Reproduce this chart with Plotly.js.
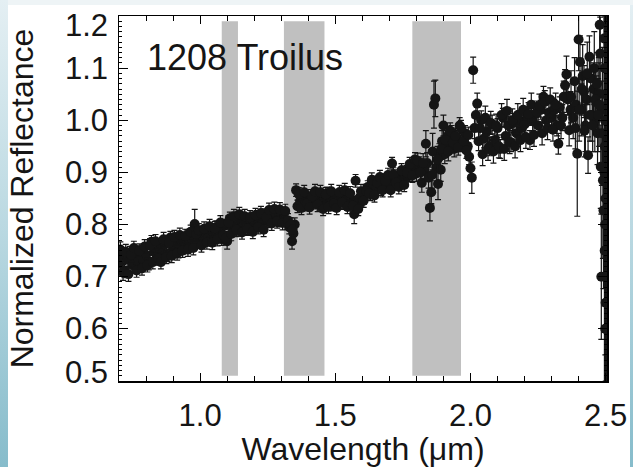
<!DOCTYPE html>
<html>
<head>
<meta charset="utf-8">
<script src="https://cdn.plot.ly/plotly-3.0.1.min.js"></script>
<style>
  html, body { margin: 0; padding: 0; width: 633px; height: 467px; overflow: hidden; }
  body { background: linear-gradient(to bottom, #e4eff3 0%, #b9d8e1 50%, #86bccb 100%); position: relative; }
  #panel { position: absolute; left: 8px; top: 5px; width: 622px; height: 462px; background: #ffffff; }
  #topstrip { position: absolute; left: 8px; top: 0; width: 625px; height: 5px; background: #eef4f6; }
  #chart { position: absolute; left: 0; top: 0; width: 633px; height: 467px; }
</style>
</head>
<body>
<div id="topstrip"></div>
<div id="panel"></div>
<div id="chart"></div>
<script>
// ---- Spectrum, sampling A ----
const wavelength = [
0.70,0.71,0.72,0.73,0.74,0.75,0.76,0.77,0.78,0.79,
0.80,0.81,0.82,0.83,0.84,0.85,0.86,0.87,0.88,0.89,
0.90,0.91,0.92,0.93,0.94,0.95,0.96,0.97,0.98,0.99,
1.00,1.01,1.02,1.03,1.04,1.05,1.06,1.07,1.08,1.09,
1.10,1.11,1.12,1.13,1.14,1.15,1.16,1.17,1.18,1.19,
1.20,1.21,1.22,1.23,1.24,1.25,1.26,1.27,1.28,1.29,
1.30,1.31,1.32,1.33,1.34,1.345,1.35,1.355,1.36,1.37,1.38,1.39,
1.40,1.41,1.42,1.43,1.44,1.45,1.46,1.47,1.48,1.49,
1.50,1.51,1.52,1.53,1.54,1.55,1.56,1.57,1.575,1.58,1.59,
1.60,1.61,1.62,1.63,1.64,1.65,1.66,1.67,1.68,1.69,
1.70,1.71,1.72,1.73,1.74,1.75,1.76,1.77,1.78,1.79,
1.80,1.81,1.82,1.83,1.835,1.84,1.845,1.85,1.855,1.86,1.865,1.87,1.875,1.88,1.885,1.89,1.895,
1.90,1.905,1.91,1.915,1.92,1.93,1.94,1.95,1.96,1.97,1.98,1.99,1.995,
2.00,2.005,2.01,2.015,2.02,2.025,2.03,2.04,2.05,2.06,2.07,2.08,2.09,
2.10,2.11,2.12,2.13,2.14,2.15,2.16,2.17,2.18,2.19,
2.20,2.21,2.22,2.23,2.24,2.25,2.26,2.27,2.28,2.29,
2.30,2.31,2.32,2.325,2.33,2.34,2.35,2.355,2.36,2.365,2.37,2.38,2.385,2.39,2.395,
2.40,2.405,2.41,2.415,2.42,2.425,2.43,2.435,2.44,2.445,2.45,2.455,2.46,2.465,2.47,2.475,2.478,
2.48,2.482,2.484,2.486,2.488,2.490,2.492,2.494,2.496,2.497,2.498,2.499,2.500
];
const reflectance = [
0.725,0.740,0.712,0.733,0.745,0.722,0.738,0.728,0.747,0.731,
0.742,0.725,0.767,0.748,0.738,0.756,0.745,0.762,0.741,0.775,
0.752,0.766,0.748,0.770,0.760,0.778,0.764,0.771,0.801,0.768,
0.781,0.770,0.786,0.775,0.790,0.779,0.795,0.783,0.772,0.798,
0.768,0.812,0.795,0.806,0.790,0.809,0.797,0.805,0.793,0.812,
0.800,0.815,0.798,0.808,0.818,0.806,0.822,0.812,0.819,0.808,
0.820,0.812,0.803,0.795,0.768,0.783,0.800,0.866,0.835,0.845,0.852,0.838,
0.848,0.855,0.842,0.850,0.838,0.853,0.844,0.860,0.846,0.838,
0.852,0.845,0.858,0.842,0.850,0.838,0.848,0.820,0.884,0.840,0.852,
0.845,0.862,0.872,0.858,0.875,0.866,0.880,0.868,0.885,0.873,
0.882,0.917,0.878,0.893,0.885,0.900,0.888,0.905,0.895,0.912,
0.898,0.915,0.880,0.905,0.955,0.918,0.890,0.832,0.862,0.940,1.030,1.042,0.910,0.878,0.930,0.905,0.960,
0.990,0.935,0.950,0.970,0.955,0.975,0.945,0.965,0.990,0.955,0.975,0.950,0.930,
0.908,0.890,1.096,0.985,1.010,1.032,0.960,1.000,0.965,0.978,0.950,0.992,0.962,
0.985,0.945,1.005,0.970,0.990,0.958,0.995,0.975,1.000,0.985,
0.992,1.008,0.962,0.998,1.012,0.990,1.020,1.045,1.000,1.015,
1.005,1.020,0.990,0.955,1.025,1.005,1.067,1.088,1.040,0.981,1.020,1.005,1.075,1.030,0.936,
1.155,1.112,1.020,1.085,1.055,0.990,1.040,0.933,1.122,1.080,1.010,1.060,1.000,1.035,0.975,1.050,1.183,
1.128,0.911,0.700,0.975,1.020,0.885,0.827,1.157,1.100,0.950,0.800,1.050,0.650
];
const uncertainty = [
0.015,0.015,0.014,0.014,0.013,0.013,0.013,0.012,0.012,0.012,
0.012,0.012,0.012,0.012,0.012,0.012,0.012,0.012,0.012,0.012,
0.012,0.012,0.012,0.012,0.012,0.012,0.012,0.012,0.028,0.012,
0.012,0.012,0.012,0.012,0.012,0.012,0.012,0.012,0.012,0.012,
0.015,0.012,0.012,0.012,0.012,0.012,0.012,0.012,0.012,0.012,
0.012,0.012,0.012,0.012,0.012,0.012,0.012,0.012,0.012,0.012,
0.012,0.012,0.012,0.013,0.015,0.015,0.013,0.012,0.012,0.012,0.012,0.012,
0.012,0.012,0.012,0.012,0.012,0.012,0.012,0.012,0.012,0.012,
0.012,0.012,0.012,0.012,0.012,0.012,0.012,0.018,0.012,0.012,0.012,
0.012,0.012,0.012,0.012,0.012,0.012,0.012,0.012,0.012,0.012,
0.012,0.012,0.012,0.012,0.012,0.012,0.012,0.012,0.012,0.012,
0.015,0.015,0.018,0.018,0.025,0.020,0.020,0.025,0.022,0.035,0.045,0.035,0.030,0.030,0.025,0.022,0.020,
0.020,0.018,0.018,0.018,0.015,0.015,0.015,0.015,0.015,0.015,0.015,0.015,0.015,
0.020,0.030,0.025,0.020,0.020,0.020,0.018,0.018,0.018,0.018,0.018,0.018,0.018,
0.018,0.018,0.018,0.018,0.018,0.018,0.018,0.018,0.018,0.018,
0.018,0.018,0.018,0.018,0.018,0.018,0.018,0.020,0.018,0.018,
0.020,0.020,0.020,0.020,0.020,0.025,0.030,0.035,0.030,0.030,0.035,0.040,0.045,0.050,0.120,
0.060,0.050,0.050,0.060,0.050,0.050,0.050,0.035,0.040,0.040,0.050,0.050,0.060,0.050,0.060,0.070,0.060,
0.070,0.080,0.120,0.100,0.120,0.150,0.150,0.150,0.300,0.350,0.400,0.500,0.500
];

// ---- Spectrum, sampling B (interleaved channels) ----
const wavelengthB = [
0.705,0.715,0.725,0.735,0.745,0.755,0.765,0.775,0.785,0.795,
0.805,0.815,0.825,0.835,0.845,0.855,0.865,0.875,0.885,0.895,
0.905,0.915,0.925,0.935,0.945,0.955,0.965,0.975,0.985,0.995,
1.005,1.015,1.025,1.035,1.045,1.055,1.065,1.075,1.085,1.095,
1.105,1.115,1.125,1.135,1.145,1.155,1.165,1.175,1.185,1.195,
1.205,1.215,1.225,1.235,1.245,1.255,1.265,1.275,1.285,1.295,
1.305,1.315,1.325,1.335,1.342,1.365,1.375,1.385,1.395,
1.405,1.415,1.425,1.435,1.445,1.455,1.465,1.475,1.485,1.495,
1.505,1.515,1.525,1.535,1.545,1.555,1.565,1.585,1.595,
1.605,1.615,1.625,1.635,1.645,1.655,1.665,1.675,1.685,1.695,
1.705,1.715,1.725,1.735,1.745,1.755,1.765,1.775,1.785,1.795,
1.805,1.815,1.825,1.858,1.878,1.892,
1.908,1.918,1.925,1.935,1.945,1.955,1.965,1.975,1.985,1.992,
2.035,2.045,2.055,2.065,2.075,2.085,2.095,
2.105,2.115,2.125,2.135,2.145,2.155,2.165,2.175,2.185,2.195,
2.205,2.215,2.225,2.235,2.245,2.255,2.265,2.275,2.285,2.295,
2.305,2.315,2.335,2.345,2.372,2.388,
2.402,2.412,2.422,2.432,2.442,2.452,2.458,2.462,2.468,2.472,2.476,
2.4955,2.4965,2.4975,2.4985,2.4995,2.5005,2.5015,2.5025,2.5035
];
const reflectanceB = [
0.752,0.708,0.748,0.705,0.742,0.755,0.712,0.750,0.716,0.758,
0.722,0.760,0.728,0.768,0.735,0.728,0.772,0.738,0.765,0.740,
0.776,0.745,0.780,0.750,0.778,0.752,0.786,0.755,0.782,0.789,
0.760,0.792,0.766,0.797,0.765,0.793,0.772,0.804,0.780,0.774,
0.804,0.782,0.816,0.790,0.820,0.785,0.816,0.792,0.814,0.786,
0.818,0.795,0.822,0.790,0.814,0.828,0.802,0.830,0.806,0.829,
0.803,0.826,0.808,0.800,0.790,0.858,0.832,0.862,0.840,
0.833,0.854,0.864,0.838,0.862,0.830,0.858,0.834,0.864,0.840,
0.832,0.862,0.842,0.866,0.834,0.860,0.836,0.830,0.864,
0.846,0.864,0.860,0.886,0.856,0.880,0.891,0.866,0.884,0.895,
0.866,0.896,0.880,0.872,0.904,0.876,0.900,0.916,0.894,0.925,
0.922,0.900,0.918,0.895,0.925,0.945,
0.962,0.940,0.980,0.958,0.970,0.948,0.985,0.960,0.942,0.972,
0.985,0.935,1.005,0.945,0.995,0.940,0.990,
0.950,1.010,0.945,1.018,0.958,1.000,0.950,1.010,0.962,1.020,
0.968,1.012,1.030,0.972,1.015,1.028,0.975,1.035,0.985,1.040,
0.982,1.030,0.990,1.045,1.045,0.985,
1.020,1.060,0.980,1.090,1.010,0.990,1.100,1.040,1.070,1.010,1.030,
0.900,0.750,1.000,0.600,0.850,0.950,0.700,1.100,0.800
];
const uncertaintyB = [
0.015,0.015,0.014,0.014,0.013,0.013,0.013,0.013,0.013,0.013,
0.013,0.013,0.013,0.013,0.013,0.013,0.013,0.013,0.013,0.013,
0.013,0.013,0.013,0.013,0.013,0.013,0.013,0.013,0.013,0.013,
0.013,0.013,0.013,0.013,0.013,0.013,0.013,0.013,0.013,0.013,
0.013,0.013,0.013,0.013,0.013,0.013,0.013,0.013,0.013,0.013,
0.013,0.013,0.013,0.013,0.013,0.013,0.013,0.013,0.013,0.013,
0.013,0.013,0.013,0.013,0.015,0.013,0.013,0.013,0.013,
0.013,0.013,0.013,0.013,0.013,0.013,0.013,0.013,0.013,0.013,
0.013,0.013,0.013,0.013,0.013,0.013,0.013,0.013,0.013,
0.013,0.013,0.013,0.013,0.013,0.013,0.013,0.013,0.013,0.013,
0.013,0.013,0.013,0.013,0.013,0.013,0.013,0.013,0.013,0.013,
0.015,0.015,0.018,0.025,0.025,0.020,
0.018,0.018,0.015,0.015,0.015,0.015,0.015,0.015,0.015,0.015,
0.022,0.022,0.022,0.022,0.022,0.022,0.022,
0.022,0.022,0.022,0.022,0.022,0.022,0.022,0.022,0.022,0.022,
0.022,0.022,0.022,0.022,0.022,0.022,0.022,0.022,0.022,0.022,
0.022,0.022,0.025,0.030,0.050,0.040,
0.060,0.050,0.050,0.060,0.050,0.050,0.070,0.060,0.060,0.070,0.080,
0.450,0.350,0.300,0.250,0.400,0.450,0.400,0.500,0.500
];

// Grey bands (telluric regions), um
const bandStart = [1.08, 1.31, 1.785];
const bandEnd   = [1.14, 1.46, 1.965];
const bandLow = 0.51, bandHigh = 1.19;

const xTicks = [1.0, 1.5, 2.0, 2.5];
const xTickText = ['1.0', '1.5', '2.0', '2.5'];
const yTicks = [0.5, 0.6, 0.7, 0.8, 0.9, 1.0, 1.1, 1.2];
const yTickText = ['0.5', '0.6', '0.7', '0.8', '0.9', '1.0', '1.1', '1.2'];

const FONT = 'Liberation Sans, Arial, Helvetica, sans-serif';
const INK = '#151515';

const shapes = bandStart.map((s, i) => ({
  type: 'rect', xref: 'x', yref: 'y', layer: 'below',
  x0: s, x1: bandEnd[i], y0: bandLow, y1: bandHigh,
  fillcolor: '#c0c0c0', line: { width: 0 }
}));

function spectrumTrace(x, y, e) {
  return {
    type: 'scatter', mode: 'markers', x: x, y: y,
    marker: { color: INK, size: 10, line: { width: 0 } },
    error_y: { type: 'data', array: e, visible: true, color: INK, thickness: 1.2, width: 3 },
    hoverinfo: 'skip'
  };
}

// y tick labels as annotations (end labels sit inside the frame, as in the original)
const yLabelAnn = yTicks.map((v, i) => ({
  text: yTickText[i], xref: 'paper', yref: 'y', x: 0, y: v,
  xanchor: 'right', yanchor: 'middle', xshift: -9,
  yshift: (i === 0 ? 9 : (i === yTicks.length - 1 ? -9 : 0)),
  showarrow: false, font: { family: FONT, size: 31, color: INK }
}));

const layout = {
  width: 633, height: 467,
  margin: { l: 119, r: 26, t: 16, b: 86 },
  paper_bgcolor: 'rgba(0,0,0,0)',
  plot_bgcolor: '#ffffff',
  showlegend: false,
  font: { family: FONT, color: INK },
  shapes: shapes,
  xaxis: {
    range: [0.7, 2.505],
    tickvals: xTicks, ticktext: xTickText,
    ticks: 'inside', ticklen: 8, tickwidth: 1.2, tickcolor: '#000',
    minor: { dtick: 0.1, tick0: 0.7, ticks: 'inside', ticklen: 5, tickwidth: 1, tickcolor: '#000' },
    showline: true, linecolor: '#000', linewidth: 1.5, mirror: 'ticks',
    showgrid: false, zeroline: false,
    tickfont: { family: FONT, size: 31, color: INK },
    ticklabelstandoff: 6,
    title: { text: 'Wavelength (\u03bcm)', font: { family: FONT, size: 32, color: INK }, standoff: 4 }
  },
  yaxis: {
    range: [0.5, 1.2],
    tickvals: yTicks, showticklabels: false,
    ticks: 'inside', ticklen: 9, tickwidth: 1.2, tickcolor: '#000',
    minor: { dtick: 0.01, tick0: 0.5, ticks: 'inside', ticklen: 3, tickwidth: 1, tickcolor: '#000' },
    showline: true, linecolor: '#000', linewidth: 1.5, mirror: 'ticks',
    showgrid: false, zeroline: false,
    title: { text: 'Normalized Reflectance', font: { family: FONT, size: 32, color: INK }, standoff: 74 }
  },
  annotations: [{
    text: '1208 Troilus', xref: 'paper', yref: 'paper', x: 0.053, y: 0.886,
    xanchor: 'left', yanchor: 'middle', showarrow: false,
    font: { family: FONT, size: 36, color: INK }
  }].concat(yLabelAnn)
};

Plotly.newPlot('chart', [
  spectrumTrace(wavelength, reflectance, uncertainty),
  spectrumTrace(wavelengthB, reflectanceB, uncertaintyB)
], layout, { staticPlot: true, displayModeBar: false });
</script>
</body>
</html>
